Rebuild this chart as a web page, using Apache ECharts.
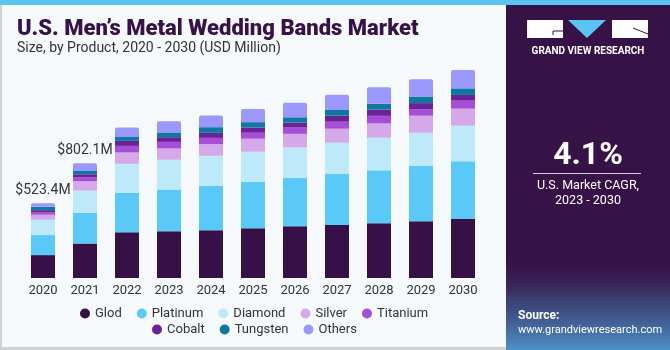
<!DOCTYPE html>
<html>
<head>
<meta charset="utf-8">
<script src="https://cdn.jsdelivr.net/npm/echarts@6/dist/echarts.min.js"></script>
<style>
html,body{margin:0;padding:0;background:#f5f9fc;}
#c{width:670px;height:350px;}
</style>
</head>
<body>
<div id="c"></div>
<script>
var years = ['2020','2021','2022','2023','2024','2025','2026','2027','2028','2029','2030'];
var gold      = [160, 241, 319, 326, 333, 347, 361, 370, 382, 396, 412];
var platinum  = [140, 214, 277, 293, 312, 323, 337, 356, 370, 386, 403];
var diamond   = [107, 156, 202, 207, 209, 212, 214, 219, 228, 233, 249];
var silver    = [35, 65, 79, 79, 81, 91, 95, 98, 100, 119, 119];
var titanium  = [16, 28, 46, 46, 44, 42, 44, 49, 53, 46, 56];
var cobalt    = [16, 21, 35, 33, 35, 37, 35, 42, 44, 42, 40];
var tungsten  = [23, 23, 28, 33, 40, 37, 37, 40, 40, 46, 46];
var others    = [26, 54, 65, 79, 81, 91, 102, 107, 116, 121, 128];
var totalLabels = ['$523.4M', '$802.1M', '', '', '', '', '', '', '', '', ''];

var seriesNames = ['Glod','Platinum','Diamond','Silver','Titanium','Cobalt','Tungsten','Others'];
var seriesData = [gold, platinum, diamond, silver, titanium, cobalt, tungsten, others];
var colors = ['#371047','#5bc9f7','#bde9f9','#d5a8ea','#a64fd6','#6d2199','#0e79a0','#9b98fb'];

var FONT = 'Roboto, "Liberation Sans", Arial, sans-serif';

var series = seriesNames.map(function(n, i){
  var s = {
    name: n, type: 'bar', stack: 'total', data: seriesData[i],
    barWidth: 24,
    itemStyle: {color: colors[i]},
    emphasis: {disabled: true}
  };
  if (i === seriesNames.length - 1) {
    s.itemStyle.borderRadius = [2,2,0,0];
    s.label = {
      show: true, position: 'top', distance: 6,
      fontSize: 14, color: '#333', fontFamily: FONT,
      formatter: function(p){ return totalLabels[p.dataIndex]; }
    };
  }
  return s;
});

var legendText = {fontSize:13, color:'#333', fontFamily: FONT};
var chart = echarts.init(document.getElementById('c'), null, {renderer:'canvas'});
chart.setOption({
  animation: false,
  color: colors,
  textStyle: {fontFamily: FONT},
  grid: {left: 22, width: 462, top: 49, bottom: 72},
  xAxis: {
    type: 'category', data: years,
    axisLine: {show:false}, axisTick: {show:false},
    axisLabel: {color:'#333', fontSize: 13, margin: 6, fontFamily: FONT}
  },
  yAxis: {type:'value', min:0, max:1600, show:false, splitLine:{show:false}},
  legend: [
    {data: seriesNames.slice(0,5), left: 80, top: 307, padding:0, icon:'circle', itemWidth:10, itemHeight:10, itemGap:15, textStyle: legendText},
    {data: seriesNames.slice(5), left: 152, top: 323, padding:0, icon:'circle', itemWidth:10, itemHeight:10, itemGap:15, textStyle: legendText}
  ],
  graphic: [
    {type:'rect', z:-10, shape:{x:0,y:0,width:670,height:350}, style:{fill:'#f5f9fc'}},
    {type:'rect', z:-9, shape:{x:0,y:0,width:2,height:350}, style:{fill:'#d2d2d2'}},
    {type:'rect', z:-9, shape:{x:0,y:347,width:506,height:3}, style:{fill:'#d2d2d2'}},
    {type:'rect', z:5, shape:{x:0,y:0,width:670,height:5}, style:{fill:'#5bc5f2'}},
    {type:'rect', z:5, shape:{x:506,y:5,width:164,height:345}, style:{fill:'#371246'}},
    {type:'rect', z:6, shape:{x:506,y:255,width:164,height:95}, style:{fill: new echarts.graphic.LinearGradient(0,0,0,1,[
      {offset:0, color:'rgba(55,18,70,0)'},
      {offset:0.45, color:'rgba(60,80,130,0.7)'},
      {offset:1, color:'#4d92c9'}
    ])}},
    // logo
    {type:'rect', z:7, shape:{x:527,y:20,width:36,height:18}, style:{fill:'#ffffff'}},
    {type:'polyline', z:8, shape:{points:[[563,31],[553,31],[553,35]]}, style:{stroke:'#371246', lineWidth:1, fill:null}},
    {type:'polygon', z:7, shape:{points:[[568,20],[606,20],[587,38]]}, style:{fill:'#5bc5f2'}},
    {type:'rect', z:7, shape:{x:612,y:20,width:36,height:18}, style:{fill:'#ffffff'}},
    {type:'line', z:8, shape:{x1:633,y1:28,x2:648,y2:34}, style:{stroke:'#371246', lineWidth:1}},
    {type:'text', z:8, style:{x:588, y:51, text:'GRAND VIEW RESEARCH', fill:'#ffffff', font:'bold 10px '+FONT, align:'center', verticalAlign:'middle'}},
    // CAGR
    {type:'text', z:8, style:{x:588, y:156, text:'4.1%', fill:'#ffffff', font:'bold 32px '+FONT, align:'center', verticalAlign:'middle'}},
    {type:'line', z:8, shape:{x1:533,y1:173.5,x2:641,y2:173.5}, style:{stroke:'#d8d0e0', lineWidth:1}},
    {type:'text', z:8, style:{x:588, y:186, text:'U.S. Market CAGR,', fill:'#ffffff', font:'12.5px '+FONT, align:'center', verticalAlign:'middle'}},
    {type:'text', z:8, style:{x:588, y:201, text:'2023 - 2030', fill:'#ffffff', font:'12.5px '+FONT, align:'center', verticalAlign:'middle'}},
    {type:'text', z:8, style:{x:518, y:316, text:'Source:', fill:'#ffffff', font:'bold 12px '+FONT, align:'left', verticalAlign:'middle'}},
    {type:'text', z:8, style:{x:518, y:330, text:'www.grandviewresearch.com', fill:'#ffffff', font:'11px '+FONT, align:'left', verticalAlign:'middle'}},
    // titles
    {type:'text', z:8, style:{x:17, y:29, text:'U.S. Men\u2019s Metal Wedding Bands Market', fill:'#371246', font:'900 22px '+FONT, align:'left', verticalAlign:'middle'}},
    {type:'text', z:8, style:{x:17, y:48, text:'Size, by Product, 2020 - 2030 (USD Million)', fill:'#333333', font:'14px '+FONT, align:'left', verticalAlign:'middle'}}
  ],
  series: series
});
</script>
</body>
</html>
